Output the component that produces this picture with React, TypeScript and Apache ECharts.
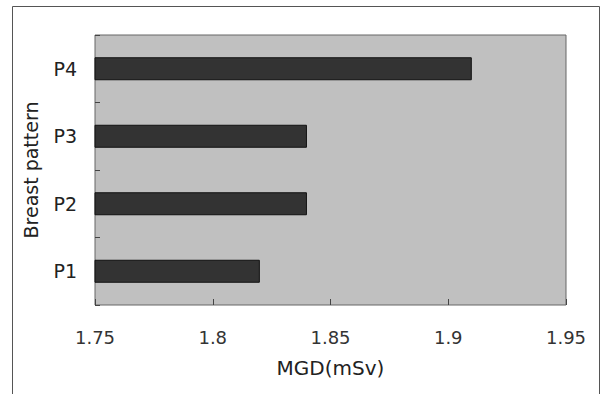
import React, { useEffect, useRef } from "react";
import * as echarts from "echarts";

const categories = ["P1", "P2", "P3", "P4"];
const mgdValues = [1.82, 1.84, 1.84, 1.91];
const xTicks = [1.75, 1.8, 1.85, 1.9, 1.95];

export default function App() {
  const ref = useRef<HTMLDivElement>(null);
  useEffect(() => {
    if (!ref.current) return;
    const chart = echarts.init(ref.current, null, { renderer: "svg" });
    const font = "DejaVu Sans, sans-serif";
    chart.setOption({
      animation: false,
      backgroundColor: "#ffffff",
      graphic: [
        {
          type: "polyline",
          shape: { points: [[12.5, 400], [12.5, 6.5], [599.5, 6.5], [599.5, 400]] },
          style: { fill: "none", stroke: "#555555", lineWidth: 1 },
          silent: true,
        },
      ],
      grid: {
        left: 95,
        top: 35,
        right: 35,
        bottom: 89,
        show: true,
        backgroundColor: "#c0c0c0",
        borderColor: "#666666",
        borderWidth: 1,
      },
      xAxis: {
        type: "value",
        min: xTicks[0],
        max: xTicks[xTicks.length - 1],
        interval: 0.05,
        name: "MGD(mSv)",
        nameLocation: "middle",
        nameGap: 53,
        nameTextStyle: { color: "#222", fontSize: 20, fontFamily: font },
        axisLine: { show: false },
        axisTick: { show: true, inside: true, length: 6, lineStyle: { color: "#444" } },
        splitLine: { show: false },
        axisLabel: {
          color: "#333",
          fontSize: 18,
          fontFamily: font,
          margin: 23,
          formatter: (v: number) => String(parseFloat(v.toFixed(2))),
        },
      },
      yAxis: {
        type: "category",
        data: categories,
        name: "Breast pattern",
        nameLocation: "middle",
        nameGap: 55,
        nameTextStyle: { color: "#222", fontSize: 19, fontFamily: font },
        axisLine: { show: false },
        axisTick: { show: true, inside: true, length: 5, lineStyle: { color: "#444" } },
        axisLabel: { color: "#222", fontSize: 19, fontFamily: font, margin: 18 },
      },
      series: [
        {
          type: "bar",
          data: mgdValues,
          barWidth: 23,
          itemStyle: { color: "#333333", borderColor: "#111111", borderWidth: 1 },
        },
      ],
    });
    return () => chart.dispose();
  }, []);
  return (
    <div
      ref={ref}
      style={{ position: "fixed", left: 0, top: 0, width: 601, height: 394 }}
    />
  );
}
